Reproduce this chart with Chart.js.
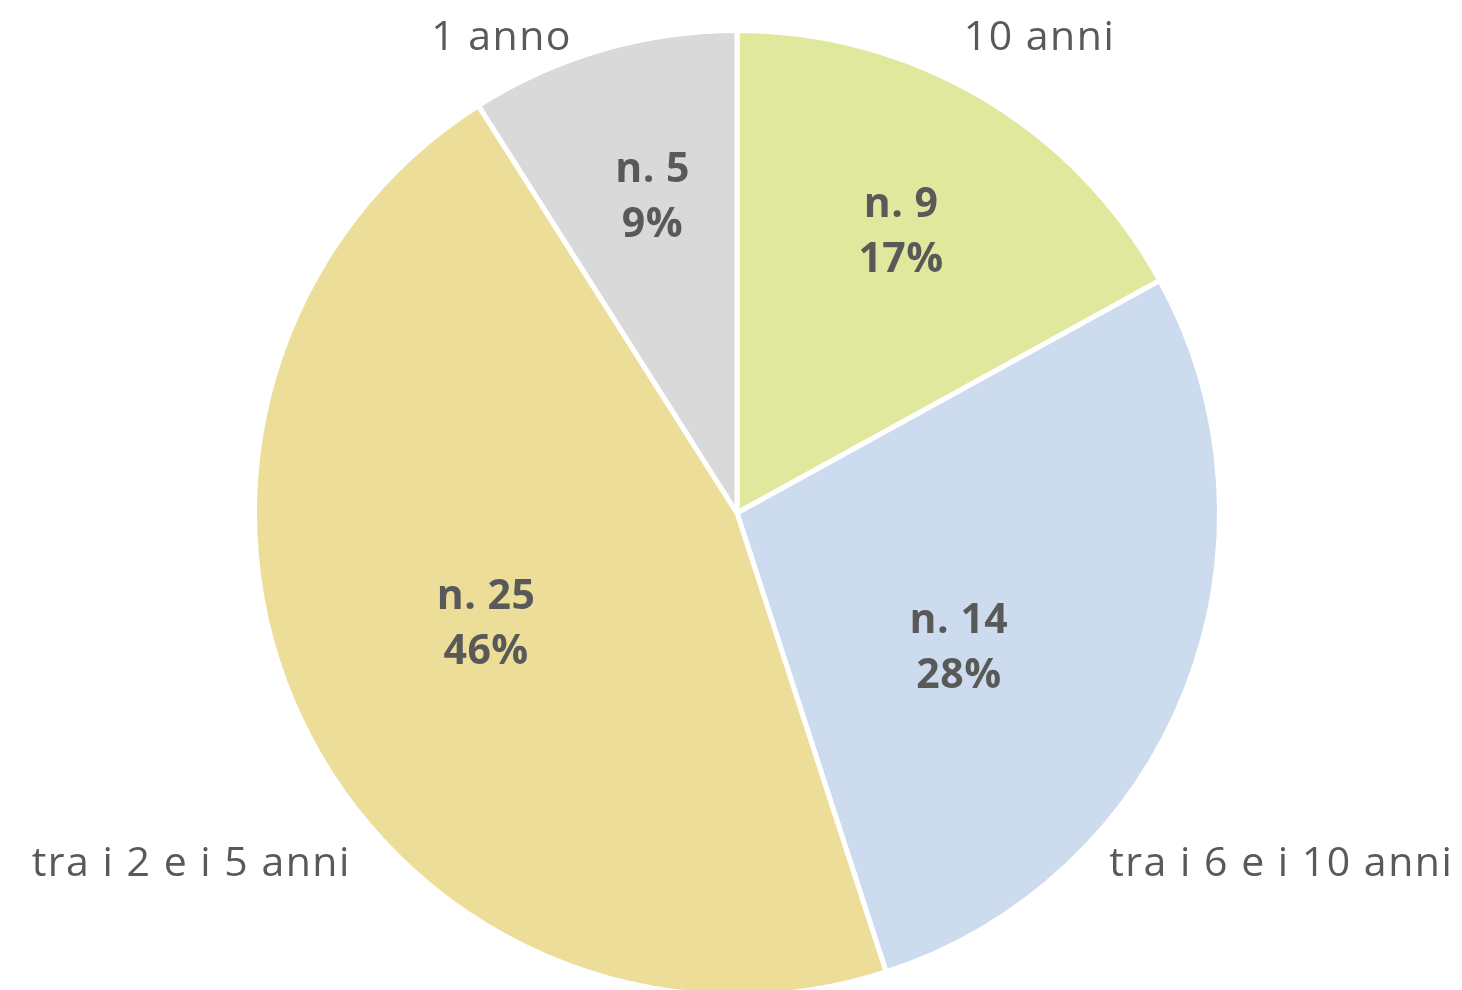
<!DOCTYPE html>
<html>
<head>
<meta charset="utf-8">
<script src="https://cdn.jsdelivr.net/npm/chart.js@4/dist/chart.umd.min.js"></script>
<style>
  html, body { margin: 0; padding: 0; background: #fff; overflow: hidden; }
  #wrap { position: absolute; left: 0; top: 0; width: 1462px; height: 1000px; }
</style>
</head>
<body>
<div id="wrap"><canvas id="myChart"></canvas></div>
<script>
const categories = ["10 anni", "tra i 6 e i 10 anni", "tra i 2 e i 5 anni", "1 anno"];
const counts = [9, 14, 25, 5];
const percents = [17, 28, 46, 9];
const colors = ["#e0e89e", "#ccdcee", "#ecde98", "#d9d9d9"];

// label spots, in units of radius from the pie centre
const outerSpots = [[0.627, -0.983], [1.128, 0.729], [-1.131, 0.729], [-0.488, -0.983]];
const innerSpots = [[0.34, -0.582], [0.46, 0.28], [-0.52, 0.23], [-0.175, -0.654]];

const textColor = "#595959";
const fontFamily = "'Open Sans', sans-serif";

const labelPlugin = {
  id: "sliceLabels",
  afterDatasetsDraw(chart) {
    const ctx = chart.ctx;
    const arcs = chart.getDatasetMeta(0).data;
    ctx.save();
    ctx.fillStyle = textColor;
    ctx.textAlign = "center";
    ctx.textBaseline = "middle";
    for (let i = 0; i < arcs.length; i++) {
      const a = arcs[i];
      const r = a.outerRadius;
      ctx.font = "400 41px " + fontFamily;
      ctx.letterSpacing = "1.5px";
      ctx.fillText(categories[i], a.x + outerSpots[i][0] * r, a.y + outerSpots[i][1] * r);
      ctx.font = "700 41px " + fontFamily;
      ctx.letterSpacing = "0.5px";
      const cx = a.x + innerSpots[i][0] * r;
      const cy = a.y + innerSpots[i][1] * r;
      ctx.fillText("n. " + counts[i], cx, cy - 27);
      ctx.fillText(percents[i] + "%", cx, cy + 28);
    }
    ctx.restore();
  }
};

function renderChart() {
  const ctx = document.getElementById("myChart");
  const config = {
    type: "pie",
    data: {
      labels: categories,
      datasets: [
        {
          data: percents,
          backgroundColor: colors,
          borderColor: "#ffffff",
          borderWidth: 5,
        },
      ],
    },
    options: {
      responsive: true,
      maintainAspectRatio: false,
      animation: false,
      layout: { padding: { top: 28, bottom: 2, left: 12, right: 0 } },
      plugins: {
        legend: { display: false },
        tooltip: { enabled: false },
      },
    },
    plugins: [labelPlugin],
  };
  new Chart(ctx, config);
}

renderChart();
</script>
</body>
</html>
